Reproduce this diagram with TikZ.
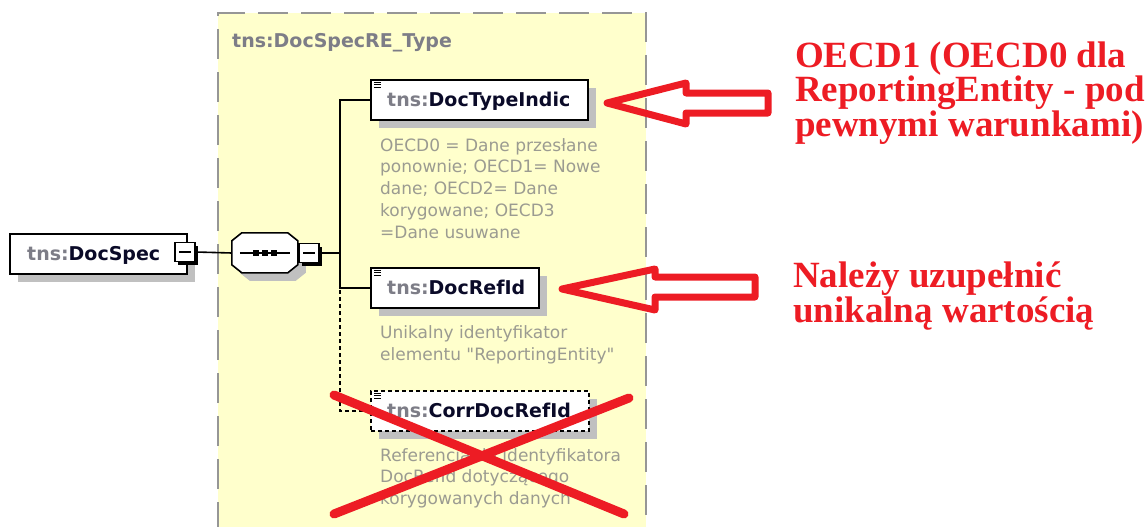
\documentclass[tikz,border=0pt]{standalone}
\usepackage{fontspec}
\setmainfont{DejaVu Sans}[Ligatures=TeXOff]
\newfontfamily\redserif{Liberation Serif}
\usetikzlibrary{shadows}

\definecolor{ylw}{RGB}{255,255,204}
\definecolor{contgray}{RGB}{150,150,150}
\definecolor{shd}{RGB}{192,192,192}
\definecolor{tnsgray}{RGB}{125,125,135}
\definecolor{namecol}{RGB}{10,10,40}
\definecolor{desccol}{RGB}{155,155,145}
\definecolor{redm}{RGB}{237,28,36}

\newcommand{\tnsp}{\textcolor{tnsgray}{tns:}}

\begin{document}
\begin{tikzpicture}[x=1pt,y=-1pt,
  cont/.style={draw=contgray, line width=2pt, dash pattern=on 30pt off 13pt},
  elem/.style={draw=black, line width=1.6pt, fill=white, minimum height=40pt, inner sep=0pt, anchor=north west,
    drop shadow={shadow xshift=8pt, shadow yshift=-8pt, fill=shd, opacity=1}},
  optelem/.style={elem, dash pattern=on 4pt off 3pt},
  lbl/.style={font=\fontsize{19}{22}\selectfont\bfseries, text=namecol, inner sep=0pt, anchor=base west},
  desc/.style={font=\fontsize{17}{21}\selectfont, text=desccol, inner sep=0pt, anchor=base west},
  ttl/.style={font=\fontsize{19}{22}\selectfont\bfseries, text=tnsgray, inner sep=0pt, anchor=base west},
  minusbox/.style={draw=black, line width=1.6pt, fill=white, minimum width=20pt, minimum height=19pt, inner sep=0pt,
    drop shadow={shadow xshift=3pt, shadow yshift=-3pt, fill=black, opacity=1},
    path picture={\draw[line width=1.2pt] ([xshift=4pt]path picture bounding box.west) -- ([xshift=-4pt]path picture bounding box.east);}},
  conn/.style={draw=black, line width=1.6pt},
  redarrow/.style={draw=redm, line width=7pt, line join=round},
  redcross/.style={draw=redm, line width=9pt, line cap=round},
  redtxt/.style={font=\redserif\bfseries\fontsize{37}{40}\selectfont, text=redm, inner sep=0pt, anchor=base west},
  docicon/.pic={\draw[line width=0.9pt] (0,0) -- (7,0) (0,2.5) -- (7,2.5) (0,5) -- (7,5);}
]
\useasboundingbox (0,0) rectangle (1146,527);

% container
\fill[ylw] (218,13) rectangle (646,532);
\draw[cont] (218,532) -- (218,13) -- (646,13) -- (646,532);
\node[ttl] (title) at (232,48) {tns:DocSpecRE\_Type};

% junction points
\coordinate (j) at (340,253);
\coordinate (jd) at (340,287);

% DocSpec
\node[elem, minimum width=177pt] (ds) at (9,233) {};
\node[lbl] (dsL) at ([xshift=18pt,yshift=-7pt]ds.west) {\tnsp DocSpec};
\node[minusbox] (dsM) at (185,252) {};

% sequence compositor
\node[minimum width=66pt, minimum height=40pt, inner sep=0pt] (seq) at (265,253) {};
\begin{scope}[shift={(seq.north west)}]
  \fill[shd] (18,8) -- (64,8) -- (74,16) -- (74,40) -- (64,48) -- (18,48) -- (8,40) -- (8,16) -- cycle;
  \filldraw[fill=white, draw=black, line width=1.6pt] (10,0) -- (56,0) -- (66,8) -- (66,32) -- (56,40) -- (10,40) -- (0,32) -- (0,8) -- cycle;
\end{scope}
\draw[line width=1.4pt] ([xshift=8pt]seq.west) -- ([xshift=-8pt]seq.east);
\foreach \dx in {-9,0,9} \fill ([xshift=\dx pt]seq.center) +(-2.6,-2.6) rectangle +(2.6,2.6);
\node[minusbox] (seqM) at (309,253) {};

% elements
\node[elem, minimum width=217pt] (dti) at (370,79) {};
\node[lbl] (dtiL) at ([xshift=17pt,yshift=-7pt]dti.west) {\tnsp DocTypeIndic};
\pic at ([shift={(4,3)}]dti.north west) {docicon};

\node[elem, minimum width=168pt] (dri) at (370,267) {};
\node[lbl] (driL) at ([xshift=17pt,yshift=-7pt]dri.west) {\tnsp DocRefId};
\pic at ([shift={(4,3)}]dri.north west) {docicon};

\node[optelem, minimum width=218pt] (cdr) at (370,390) {};
\node[lbl] (cdrL) at ([xshift=17pt,yshift=-7pt]cdr.west) {\tnsp CorrDocRefId};
\pic at ([shift={(4,3)}]cdr.north west) {docicon};

% connectors
\draw[conn] (dsM.east) -- (seq.west);
\draw[conn] (seqM.east) -- (j);
\draw[conn] (dti.west) -| (j);
\draw[conn] (dri.west) -| (j);
\draw[conn, dash pattern=on 4pt off 3pt] (cdr.west) -| (jd);

% descriptions
\foreach \t [count=\i] in {{OECD0 = Dane przesłane},{ponownie; OECD1= Nowe},{dane; OECD2= Dane},{korygowane; OECD3},{=Dane usuwane}}
  \node[desc] (dtiD\i) at (380,{151+21.75*(\i-1)}) {\t};
\foreach \t [count=\i] in {{Unikalny identyfikator},{elementu "ReportingEntity"}}
  \node[desc] (driD\i) at (380,{338+22*(\i-1)}) {\t};
\foreach \t [count=\i] in {{Referencja do identyfikatora},{DocRefId dotyczącego},{korygowanych danych}}
  \node[desc] (cdrD\i) at (380,{461+21.5*(\i-1)}) {\t};

% red annotations
\draw[redarrow] (607,103) -- (686,83) -- (686,93) -- (768,93) -- (768,113) -- (686,113) -- (686,124) -- cycle;
\draw[redarrow] (562,289) -- (655,269) -- (655,277) -- (755,277) -- (755,297) -- (655,297) -- (655,310) -- cycle;
\draw[redcross] (334,395) -- (624,514);
\draw[redcross] (629,398) -- (334,514);

\node[redtxt] (r1) at (795,68) {OECD1 (OECD0 dla};
\node[redtxt] (r2) at (795,102) {ReportingEntity - pod};
\node[redtxt] (r3) at (795,136) {pewnymi warunkami)};
\node[redtxt] (r4) at (793,287) {Należy uzupełnić};
\node[redtxt] (r5) at (793,322) {unikalną wartością};
\end{tikzpicture}
\end{document}
